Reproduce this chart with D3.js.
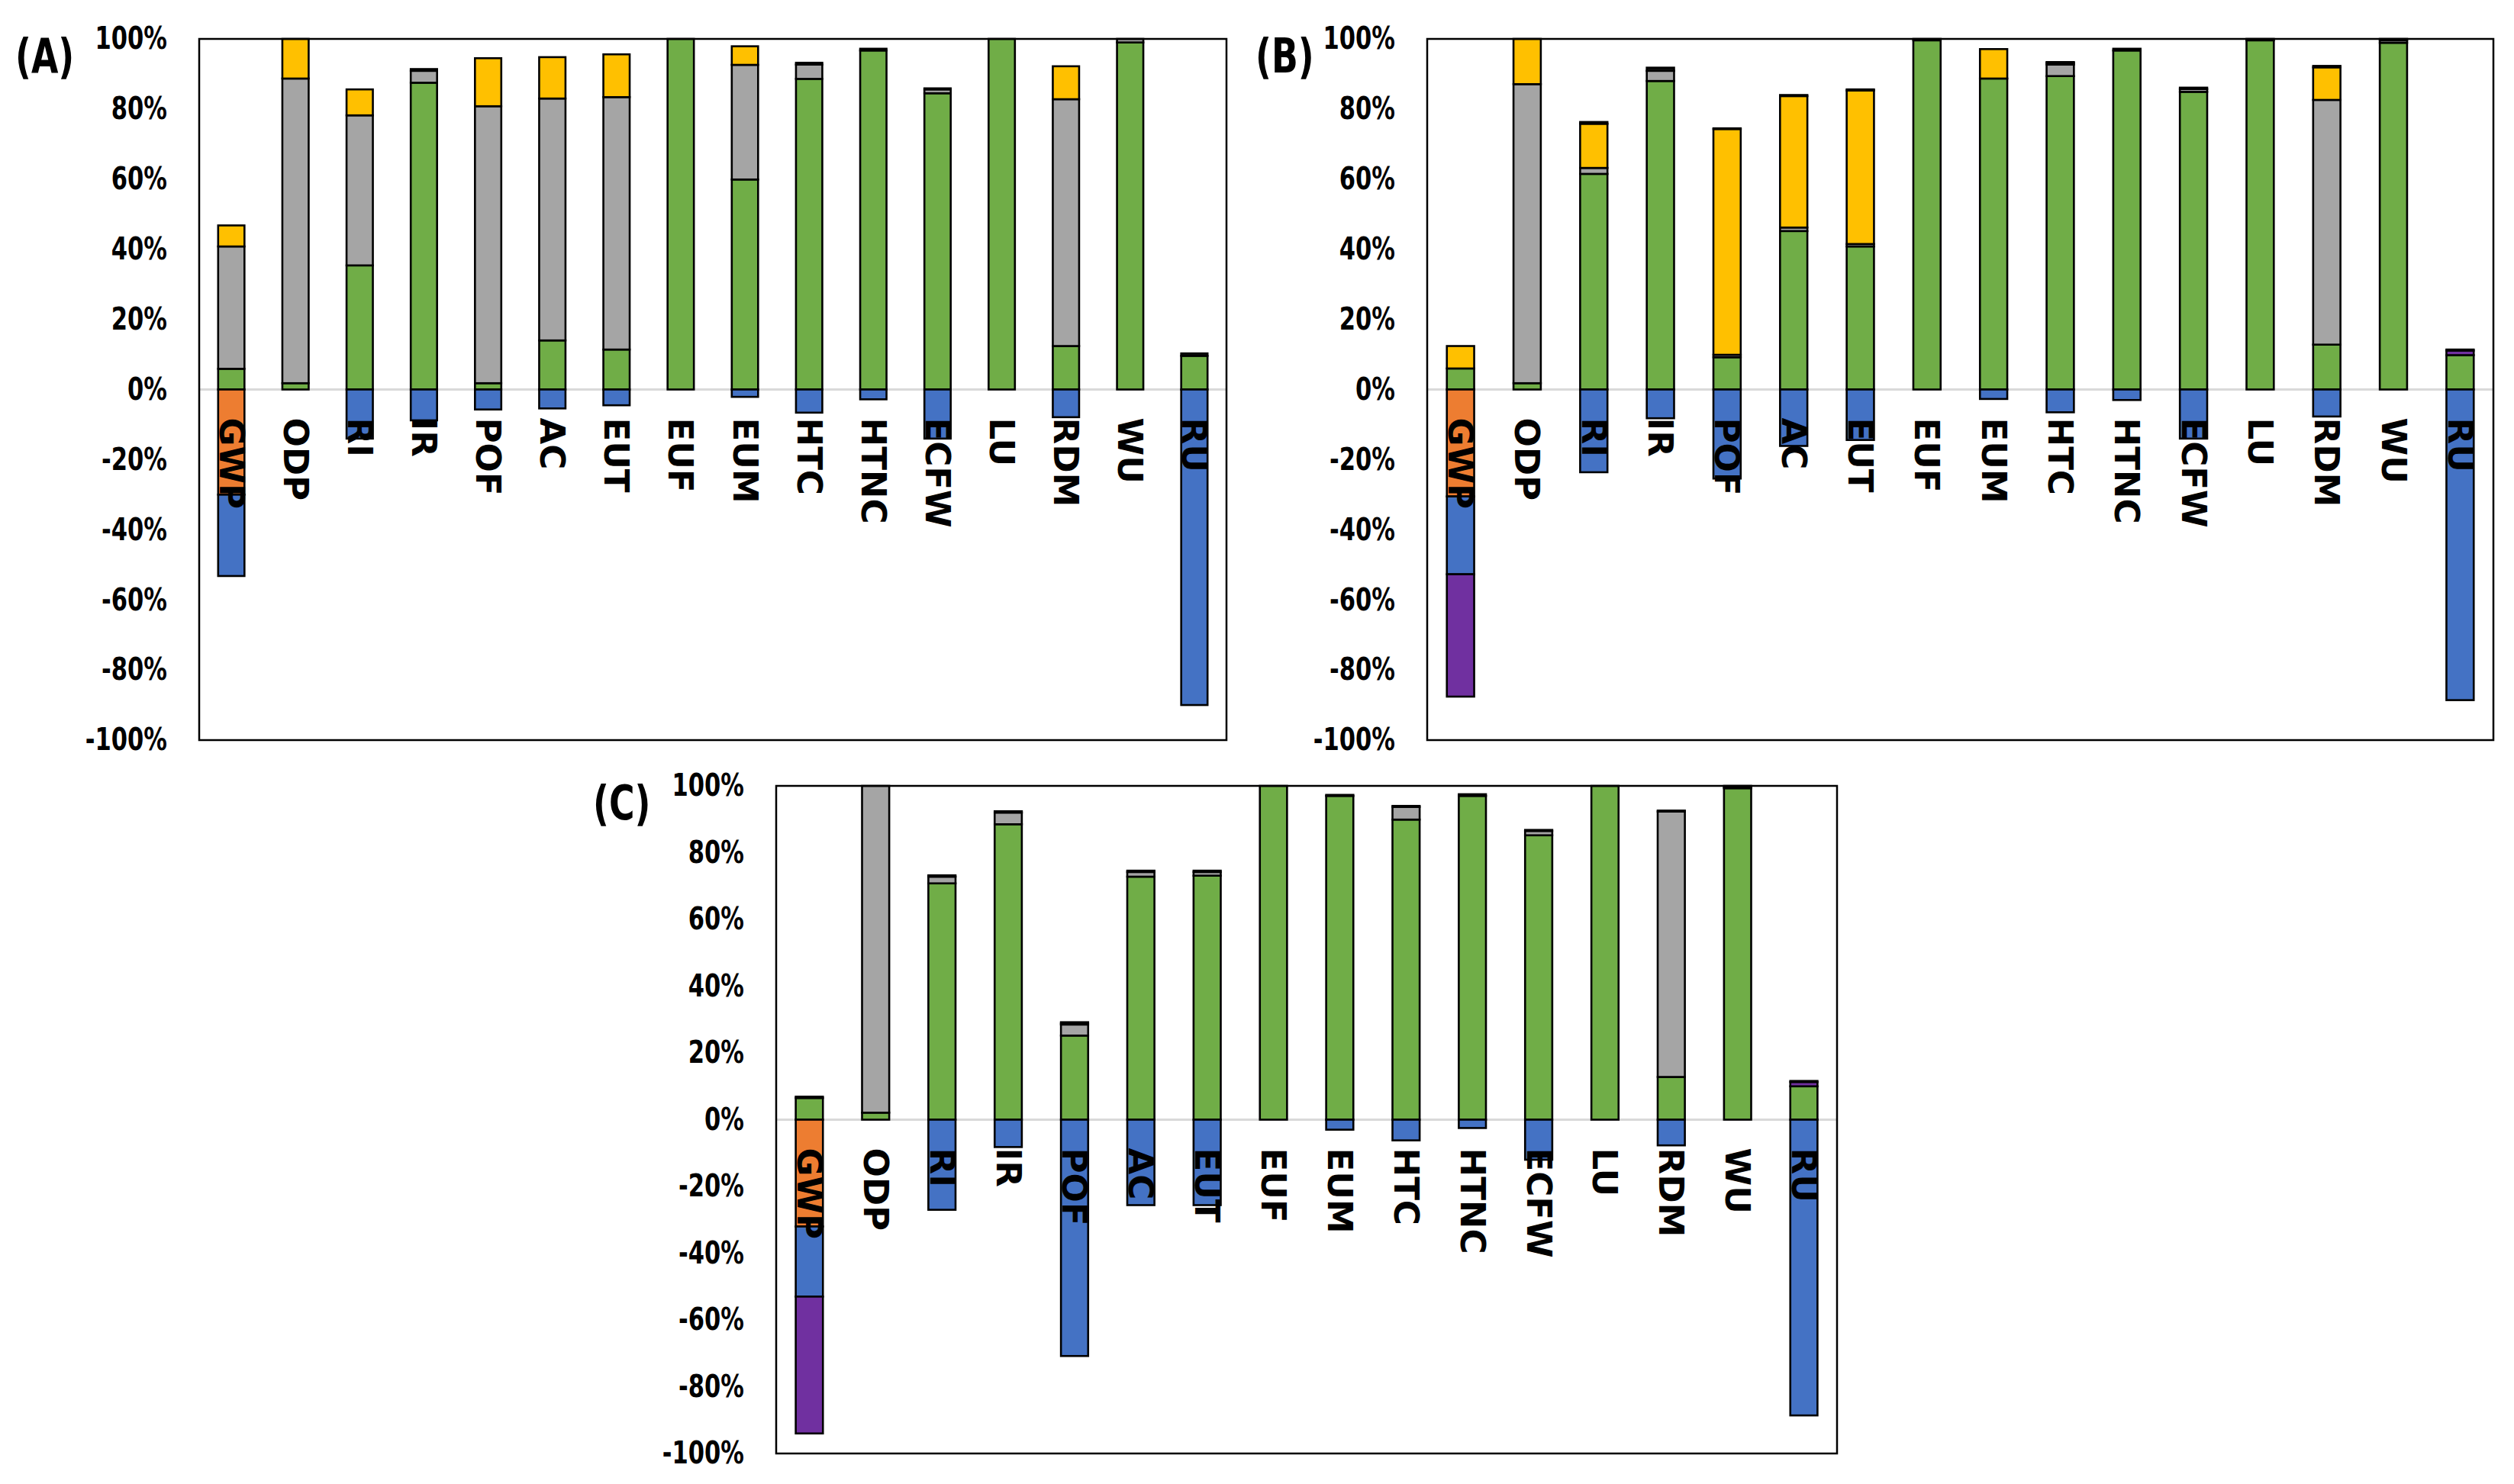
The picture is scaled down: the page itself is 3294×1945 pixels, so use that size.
<!DOCTYPE html>
<html>
<head>
<meta charset="utf-8">
<script src="https://cdn.jsdelivr.net/npm/d3@7"></script>
<style>
  body { margin: 0; background: #fff; }
  svg { display: block; }
</style>
</head>
<body>
<div id="chart"></div>
<script>
// categories (impact categories)
var categories = ["GWP", "ODP", "RI", "IR", "POF", "AC", "EUT", "EUF", "EUM", "HTC", "HTNC", "ECFW", "LU", "RDM", "WU", "RU"];
var yTicks = [-100, -80, -60, -40, -20, 0, 20, 40, 60, 80, 100];

// panel A values (%), negatives below zero
var greenA  = [5.9, 1.8, 35.4, 87.5, 1.8, 14.0, 11.4, 100, 59.9, 88.6, 96.7, 84.5, 100, 12.4, 99.0, 9.6];
var grayA   = [34.9, 86.9, 42.8, 3.4, 79.0, 69.0, 72.0, 0, 32.7, 4.1, 0, 1.1, 0, 70.4, 1.0, 0];
var yellowA = [6.0, 11.3, 7.4, 0, 13.7, 11.8, 12.2, 0, 5.3, 0, 0, 0, 0, 9.4, 0, 0];
var purpleA = [0, 0, 0, 0, 0, 0, 0, 0, 0, 0, 0, 0, 0, 0, 0, 0];
var darkA   = [0, 0, 0, 0.5, 0, 0, 0, 0, 0, 0.5, 0.5, 0.3, 0, 0, 0, 0.7];
var orangeA = [-30, 0, 0, 0, 0, 0, 0, 0, 0, 0, 0, 0, 0, 0, 0, 0];
var blueA   = [-23.2, 0, -14, -8.8, -5.7, -5.4, -4.5, 0, -2.1, -6.6, -2.8, -14, 0, -7.9, 0, -90.0];

// panel B values (%)
var greenB  = [6.0, 1.8, 61.5, 88.0, 9.2, 45.2, 40.8, 99.6, 88.7, 89.4, 96.7, 84.9, 99.6, 12.8, 98.9, 9.8];
var grayB   = [0, 85.3, 1.7, 2.9, 0.7, 1.0, 0.7, 0, 0, 3.3, 0, 0.8, 0, 69.8, 0.7, 0];
var yellowB = [6.4, 12.9, 12.6, 0, 64.4, 37.5, 43.8, 0, 8.4, 0.5, 0, 0, 0, 9.3, 0, 0];
var purpleB = [-34.9, 0, 0, 0, 0, 0, 0, 0, 0, 0, 0, 0, 0, 0, 0, 1.3];
var darkB   = [0, 0, 0.5, 0.9, 0.2, 0.3, 0.3, 0.4, 0, 0.2, 0.5, 0.4, 0.4, 0.4, 0.4, 0.3];
var orangeB = [-30.5, 0, 0, 0, 0, 0, 0, 0, 0, 0, 0, 0, 0, 0, 0, 0];
var blueB   = [-22.2, 0, -23.6, -8.2, -25.4, -16.1, -14.4, 0, -2.7, -6.5, -3.0, -14, 0, -7.7, 0, -88.6];

// panel C values (%)
var greenC  = [6.5, 2.1, 70.8, 88.5, 25.2, 72.8, 73.1, 100, 97.0, 89.9, 97.0, 85.2, 100, 12.8, 99.3, 10.0];
var grayC   = [0, 97.9, 2.0, 3.5, 3.3, 1.4, 1.1, 0, 0, 3.8, 0, 1.3, 0, 79.5, 0.4, 0];
var yellowC = [0, 0, 0, 0, 0, 0, 0, 0, 0, 0, 0, 0, 0, 0, 0, 0];
var purpleC = [-41.0, 0, 0, 0, 0.4, 0, 0, 0, 0, 0, 0, 0, 0, 0, 0, 1.3];
var darkC   = [0.4, 0, 0.4, 0.4, 0.3, 0.4, 0.4, 0, 0.3, 0.3, 0.5, 0.3, 0, 0.3, 0.3, 0.3];
var orangeC = [-32, 0, 0, 0, 0, 0, 0, 0, 0, 0, 0, 0, 0, 0, 0, 0];
var blueC   = [-21.0, 0, -27.0, -8.2, -70.8, -25.6, -25.6, 0, -3.0, -6.2, -2.5, -12, 0, -7.7, 0, -88.6];

// stack order: positives go green, gray, yellow, purple, dark; negatives go orange, blue, purple
var keys = ["green", "orange", "gray", "blue", "yellow", "purple", "dark"];
var colors = {green: "#70AD47", orange: "#ED7D31", gray: "#A5A5A5", blue: "#4472C4",
              yellow: "#FFC000", purple: "#7030A0", dark: "#111111"};

var W = 3294, H = 1945;
var svg = d3.select("#chart").append("svg")
    .attr("width", W)
    .attr("height", H);

var tickFont = "'DejaVu Sans Condensed', 'DejaVu Sans', sans-serif";
var catFont = "'DejaVu Sans', sans-serif";

// squeeze a text horizontally so it looks like the narrow Calibri of the original
function squeeze(sel, k) {
  sel.each(function() {
    var len = this.getComputedTextLength();
    d3.select(this)
      .attr("textLength", len * k)
      .attr("lengthAdjust", "spacingAndGlyphs");
  });
}

function buildRows(g, o, gr, y, b, p, dk) {
  return categories.map(function(c, i) {
    return {cat: c, green: g[i], orange: o[i], gray: gr[i], blue: b[i], yellow: y[i], purple: p[i], dark: dk[i]};
  });
}

function drawPanel(cfg, rows) {
  var x = d3.scaleBand()
      .domain(categories)
      .range([cfg.left, cfg.right])
      .paddingInner(0.59)
      .paddingOuter(0.295);

  var y = d3.scaleLinear()
      .domain([-100, 100])
      .range([cfg.bottom, cfg.top]);

  var panel = svg.append("g");

  // panel letter
  panel.append("text")
      .attr("x", cfg.labelX)
      .attr("y", cfg.top + 44)
      .style("font-family", tickFont)
      .style("font-weight", "bold")
      .style("font-size", "62px")
      .text(cfg.label)
      .call(squeeze, 0.82);

  // y axis labels
  var yAxis = panel.append("g")
      .attr("transform", "translate(" + cfg.left + ",0)")
      .call(d3.axisLeft(y).tickValues(yTicks).tickSize(0).tickPadding(42)
        .tickFormat(function(d) { return d + "%"; }));
  yAxis.select(".domain").remove();
  yAxis.selectAll("text")
      .style("font-family", tickFont)
      .style("font-weight", "bold")
      .style("font-size", "40px")
      .attr("fill", "#000")
      .call(squeeze, 0.85);

  // zero line
  panel.append("line")
      .attr("x1", cfg.left)
      .attr("x2", cfg.right)
      .attr("y1", y(0))
      .attr("y2", y(0))
      .attr("stroke", "#D9D9D9")
      .attr("stroke-width", 3);

  var series = d3.stack()
      .keys(keys)
      .offset(d3.stackOffsetDiverging)(rows);

  panel.append("g")
    .selectAll("g")
    .data(series)
    .enter()
    .append("g")
      .attr("fill", function(d) { return colors[d.key]; })
    .selectAll("rect")
    .data(function(d) { return d.filter(function(s) { return s[1] - s[0] !== 0; }); })
    .enter()
    .append("rect")
      .attr("x", function(d) { return x(d.data.cat); })
      .attr("width", x.bandwidth())
      .attr("y", function(d) { return y(Math.max(d[0], d[1])); })
      .attr("height", function(d) { return Math.abs(y(d[0]) - y(d[1])); })
      .attr("stroke", "#000")
      .attr("stroke-width", 2.6);

  // category labels, rotated, drawn over the bars
  panel.append("g")
    .selectAll("text")
    .data(categories)
    .enter()
    .append("text")
      .attr("transform", function(d) {
        return "translate(" + (x(d) + x.bandwidth() / 2) + "," + (y(0) + 37) + ") rotate(90)";
      })
      .attr("text-anchor", "start")
      .attr("dominant-baseline", "central")
      .style("font-family", catFont)
      .style("font-weight", "bold")
      .style("font-size", "45px")
      .attr("fill", "#000")
      .text(function(d) { return d; });

  // plot frame
  panel.append("rect")
      .attr("x", cfg.left)
      .attr("y", cfg.top)
      .attr("width", cfg.right - cfg.left)
      .attr("height", cfg.bottom - cfg.top)
      .attr("fill", "none")
      .attr("stroke", "#000")
      .attr("stroke-width", 2.5);
}

drawPanel({label: "(A)", labelX: 20, left: 261, right: 1607, top: 51, bottom: 970},
          buildRows(greenA, orangeA, grayA, yellowA, blueA, purpleA, darkA));
drawPanel({label: "(B)", labelX: 1645, left: 1870, right: 3267, top: 51, bottom: 970},
          buildRows(greenB, orangeB, grayB, yellowB, blueB, purpleB, darkB));
drawPanel({label: "(C)", labelX: 777, left: 1017, right: 2407, top: 1030, bottom: 1905},
          buildRows(greenC, orangeC, grayC, yellowC, blueC, purpleC, darkC));
</script>
</body>
</html>
